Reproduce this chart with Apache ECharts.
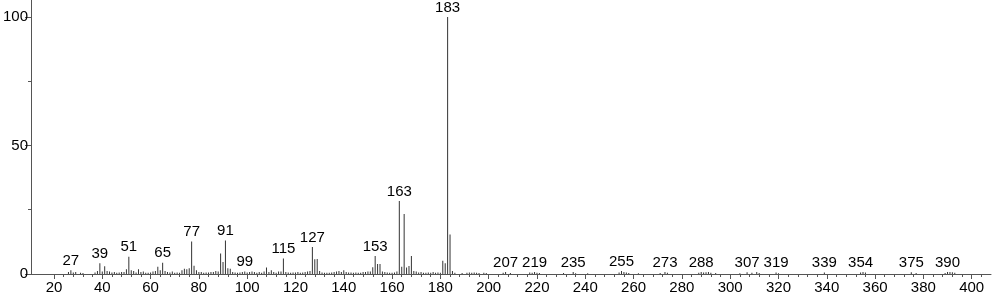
<!DOCTYPE html>
<html>
<head>
<meta charset="utf-8">
<script src="https://cdn.jsdelivr.net/npm/echarts@6/dist/echarts.min.js"></script>
<style>html,body{margin:0;padding:0;background:#fff}#c{width:996px;height:299px}</style>
</head>
<body>
<div id="c"></div>
<script>
// m/z values and relative intensities (%)
const mz = [26,27,28,29,31,32,37,38,39,40,41,42,43,44,45,46,47,48,49,50,51,52,53,54,55,56,57,58,59,60,
  61,62,63,64,65,66,67,68,69,70,71,72,73,74,75,76,77,78,79,80,81,82,83,84,85,86,87,88,89,90,
  91,92,93,94,95,96,97,98,99,100,101,102,103,104,105,106,107,108,109,110,111,112,113,114,115,116,117,118,119,120,
  121,122,123,124,125,126,127,128,129,130,131,132,133,134,135,136,137,138,139,140,141,142,143,144,145,146,147,148,149,150,
  151,152,153,154,155,156,157,158,159,160,161,162,163,164,165,166,167,168,169,170,171,172,173,174,175,176,177,178,179,180,
  181,182,183,184,185,186,189,191,192,193,194,195,196,198,199,
  206,207,209,217,218,219,220,221,231,235,236,241,254,255,256,257,258,262,271,273,274,
  287,288,289,290,291,292,294,304,307,309,311,312,319,320,339,354,355,356,375,377,389,390,391,392,393];
const intensity = [0.8,1.5,0.6,0.8,0.5,0.4,0.6,1.2,4.2,1.0,3.0,1.2,1.0,0.6,0.8,0.5,0.6,0.8,0.8,1.8,6.7,1.5,1.2,0.6,1.8,0.8,1.0,0.5,0.5,0.6,
  1.0,1.2,2.8,1.5,4.4,1.2,0.8,0.6,1.0,0.5,0.6,0.5,1.5,2.0,1.8,2.2,12.6,3.2,1.5,0.8,0.8,0.5,0.6,0.6,0.8,0.8,1.2,1.0,8.0,4.7,
  13.0,2.2,2.0,0.8,0.6,0.5,0.6,0.8,1.0,0.6,0.8,1.0,0.8,0.5,0.8,0.5,1.0,2.5,0.8,1.5,0.8,0.5,1.0,1.0,6.0,0.8,0.6,0.5,0.6,0.6,
  0.8,0.5,0.6,0.8,1.0,1.2,10.5,5.7,5.8,1.2,0.6,0.5,0.5,0.5,0.6,0.8,1.0,1.2,0.8,1.5,0.8,0.6,0.6,0.5,0.6,0.5,0.5,0.8,0.8,1.0,
  1.0,2.6,7.0,3.9,3.9,1.0,0.8,0.6,0.5,0.5,0.6,1.0,28.4,2.8,23.3,2.5,3.1,7.0,1.2,1.0,0.6,0.8,0.5,0.5,0.6,0.5,0.8,0.5,0.6,0.5,
  5.2,4.2,100,15.4,1.2,0.5,0.4,0.5,0.6,0.5,0.6,0.5,0.4,0.5,0.4,
  0.5,0.8,0.4,0.6,0.5,0.8,0.5,0.4,0.4,0.8,0.3,0.3,0.6,1.2,0.8,0.6,0.4,0.3,0.4,0.8,0.5,
  0.5,0.8,0.6,0.7,0.8,0.5,0.4,0.3,0.7,0.5,0.8,0.4,0.6,0.3,0.6,0.6,0.8,0.6,0.7,0.4,0.4,0.8,0.8,0.7,0.5];
const labeledPeaks = [27,39,51,65,77,91,99,115,127,153,163,183,207,219,235,255,273,288,307,319,339,354,375,390];
const xTickLabels = [20,40,60,80,100,120,140,160,180,200,220,240,260,280,300,320,340,360,380,400];
const xMinorTicks = [];
for (let v = 24; v <= 404; v += 4) { if (v % 20 !== 0) xMinorTicks.push(v); }
const yTickLabels = [0,50,100];
const yMinorTicks = [25,75];

const data = mz.map((m, i) => [m, intensity[i]]);
const labelSet = new Set(labeledPeaks);

const font = 'Liberation Sans, Arial, sans-serif';
const axisColor = '#555';
const X_MIN = 10.5, X_MAX = 408, Y_MAX = 106.6;

const chart = echarts.init(document.getElementById('c'), null, {renderer: 'canvas'});
chart.setOption({
  animation: false,
  backgroundColor: '#fff',
  grid: {left: 30, right: 5, top: 0, bottom: 25, containLabel: false},
  xAxis: [{
    type: 'value', min: X_MIN, max: X_MAX, position: 'bottom',
    axisLine: {show: true, lineStyle: {color: axisColor, width: 1}},
    axisTick: {show: true, length: 5, customValues: xTickLabels, lineStyle: {color: axisColor}},
    axisLabel: {show: true, customValues: xTickLabels, margin: 6, fontSize: 15, fontFamily: font, color: '#000'},
    splitLine: {show: false}
  }, {
    type: 'value', min: X_MIN, max: X_MAX, position: 'bottom',
    axisLine: {show: false},
    axisTick: {show: true, length: 3, customValues: xMinorTicks, lineStyle: {color: axisColor}},
    axisLabel: {show: false},
    splitLine: {show: false}
  }],
  yAxis: [{
    type: 'value', min: 0, max: Y_MAX, position: 'left',
    axisLine: {show: true, lineStyle: {color: axisColor, width: 1}},
    axisTick: {show: true, length: 6, customValues: yTickLabels, lineStyle: {color: axisColor}},
    axisLabel: {show: true, customValues: yTickLabels, margin: 3, fontSize: 15, fontFamily: font, color: '#000'},
    splitLine: {show: false}
  }, {
    type: 'value', min: 0, max: Y_MAX, position: 'left',
    axisLine: {show: false},
    axisTick: {show: true, length: 3, customValues: yMinorTicks, lineStyle: {color: axisColor}},
    axisLabel: {show: false},
    splitLine: {show: false}
  }],
  series: [{
    type: 'bar',
    xAxisIndex: 0, yAxisIndex: 0,
    barWidth: 1,
    data: data,
    itemStyle: {color: '#333'},
    label: {
      show: true, position: 'top', distance: 2,
      fontSize: 15, fontFamily: font, color: '#000',
      formatter: p => labelSet.has(p.value[0]) ? String(p.value[0]) : ''
    }
  }]
});
</script>
</body>
</html>
